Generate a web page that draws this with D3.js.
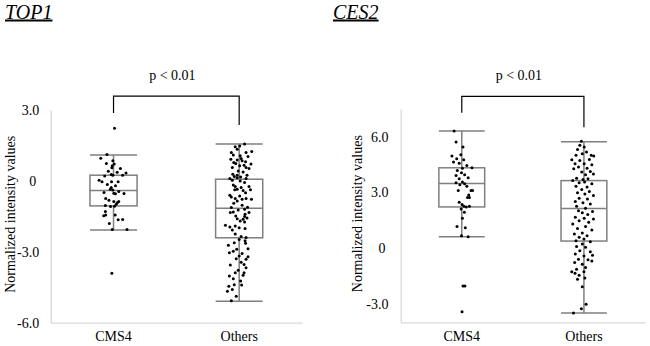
<!DOCTYPE html>
<html>
<head>
<meta charset="utf-8">
<script src="https://cdn.jsdelivr.net/npm/d3@7"></script>
<style>
  body { margin: 0; background: #fff; }
</style>
</head>
<body>
<svg id="chart" width="650" height="346"></svg>
<script>
const groups = ['CMS4', 'Others'];
const top1Ticks = [3, 0, -3, -6];
const ces2Ticks = [6, 3, 0, -3];

// [low whisker, Q1, median, Q3, high whisker] per group
const top1Stats = [[-2.08, -1.06, -0.41, 0.24, 1.10], [-5.10, -2.41, -1.16, 0.07, 1.56]];
const ces2Stats = [[0.61, 2.22, 3.48, 4.33, 6.31], [-3.50, 0.38, 2.13, 3.64, 5.74]];

// [value, jitter]
const top1Cms4 = [[2.23, 1], [1.12, -6.7], [0.96, -13], [0.85, -0.7], [0.74, -7.3], [0.71, 0.7], [0.64, -1.3],
  [0.55, -1.7], [0.52, 7], [0.41, -5.3], [0.36, 3.7], [0.33, 12.7], [0.21, -9], [0.27, -2.3], [0.24, -0.7],
  [0.24, 9.3], [0.03, -14.7], [-0.04, -11.7], [-0.04, -2], [-0.04, 4.7], [-0.15, -6.3], [-0.21, 2], [-0.28, -2.3],
  [-0.35, -3.3], [-0.39, -0.7], [-0.45, 5.3], [-0.49, -9.7], [-0.52, 0.3], [-0.55, 2], [-0.53, 10.7], [-0.75, -8],
  [-0.82, -4.7], [-0.87, 0.3], [-0.92, 4], [-0.87, 5.3], [-0.99, 2.7], [-1.04, -8.3], [-1.09, -3], [-1.07, 1],
  [-1.30, -8.3], [-1.48, -10], [-1.44, -8], [-1.44, 1.7], [-1.65, 4.7], [-1.64, 9.3], [-1.81, -4.3], [-2.06, -1.3],
  [-2.06, 13.7], [-3.91, -1.7]];
const top1Others = [[1.56, 5.5], [1.44, -4], [1.34, -2], [1.24, 12.8], [1.20, 7], [1.20, -8], [1.10, -6], [1.06, 1],
  [1.03, 9], [0.92, -8.5], [0.88, -2], [0.85, 3], [0.81, 6.5], [0.78, -5.5], [0.74, -3.5], [0.71, 12], [0.66, 5],
  [0.64, 0.5], [0.57, 7], [0.52, 10], [0.42, -1], [0.38, 4], [0.28, -6.5], [0.24, -2], [0.18, -5], [0.16, 1.5],
  [0.13, -2], [0.10, -9.5], [0.10, 7], [0.03, -7], [-0.01, 1], [-0.07, 5.5], [-0.18, -6], [-0.24, 10], [-0.28, 2],
  [-0.35, -2], [-0.38, -4.5], [-0.41, 4], [-0.38, 11.5], [-0.5, 6.5], [-0.61, -9.5], [-0.68, -8], [-0.75, -4],
  [-0.75, 7], [-0.78, 12.5], [-0.85, -2], [-0.95, -5.5], [-1.03, 3], [-1.12, 8.5], [-1.13, -8], [-1.20, 5.5],
  [-1.23, -1], [-1.32, -6], [-1.41, 6], [-1.49, -3.5], [-1.51, 5.5], [-1.57, 8], [-1.60, -2], [-1.63, 4], [-1.70, 1],
  [-1.74, 5.5], [-1.88, -14], [-1.95, -9.5], [-1.91, -4], [-1.98, 0], [-2.02, 6], [-2.08, -7], [-2.25, -4],
  [-2.36, 2], [-2.40, 7], [-2.53, 6], [-2.73, -11], [-2.64, 6.5], [-2.90, -2.5], [-2.98, -6], [-3.04, -10],
  [-3.18, 0], [-3.21, 9], [-3.30, -3], [-3.32, 7], [-3.44, 2], [-3.54, 5], [-3.56, -9], [-3.68, 7], [-3.78, -1],
  [-3.89, -4], [-3.89, 5], [-4.03, -10], [-4.00, 4], [-4.14, -6], [-4.24, 1.5], [-4.40, -5], [-4.41, 2.5],
  [-4.46, -10.5], [-4.67, -12], [-4.60, -7], [-4.88, -3], [-5.08, -8], [1.48, 0.5], [0.95, 2], [0.57, -7],
  [0.24, 8], [-0.24, -4], [-0.64, 0.5], [-0.78, 3], [-1.34, -9], [-1.34, 10], [-2.48, 0], [-2.62, -5],
  [-2.87, 9], [-3.07, 3]];
const ces2Cms4 = [[6.32, -8], [5.72, -6], [5.45, 1.3], [4.96, -10.3], [5.04, -1], [4.82, -5.3], [4.77, 2],
  [4.64, -8.7], [4.58, -2.7], [4.46, 5.3], [4.31, 0.7], [4.33, 10.7], [4.19, -4.7], [4.06, -0.3], [3.95, 3],
  [3.92, -6], [3.79, 6.7], [3.74, -2.7], [3.56, 0.7], [3.52, -6], [3.47, 3], [3.41, -2], [3.34, 5.3], [3.10, -3.7],
  [3.10, 9.7], [3.10, 11.3], [2.87, 7.3], [2.73, 6], [2.73, 8], [2.47, -2.7], [2.35, 0.3], [2.26, 2.3], [2.22, 4.7],
  [2.26, 8], [2.11, -0.7], [1.93, 2.7], [1.61, 0.7], [1.16, -5], [1.10, 3.7], [0.67, -0.3], [0.61, 6.7],
  [-2.04, 1.3], [-2.04, 3.3], [-3.43, 0.3]];
const ces2Others = [[5.76, -2.7], [5.54, -4.3], [5.45, 0.3], [5.31, -6.7], [5.18, 2.7], [5.09, -1.7], [5.00, -8.3],
  [5.00, 7.7], [4.96, 10.3], [4.77, -12.7], [4.73, -4.3], [4.78, 5.7], [4.55, -9.3], [4.55, 0.3], [4.49, 8.3],
  [4.37, -5.7], [4.31, 3.3], [4.28, -10.7], [4.10, -2.3], [4.13, 6.7], [3.95, 1.7], [3.99, 10], [3.77, -7.7],
  [3.70, -1], [3.74, 4.3], [3.65, -11.7], [3.52, -5], [3.56, 0.7], [3.47, 8.3], [3.34, -8.3], [3.29, 3.3],
  [3.16, -2.3], [3.05, 5.7], [2.98, -6.7], [2.92, 1], [2.83, 10], [2.69, -5], [2.65, 3.7], [2.51, -9], [2.44, -1],
  [2.38, 6.7], [2.26, -7.7], [2.15, 1.7], [2.02, -5.7], [1.97, 9], [1.90, -1.7], [1.81, 4], [1.66, -9], [1.61, 0.3],
  [1.57, 10], [1.48, -5], [1.39, 5], [1.30, -11.7], [1.17, 1.7], [1.06, -6.7], [0.97, 8.3], [0.76, -10],
  [0.81, -1.7], [0.67, 3.3], [0.58, -5], [0.49, 0], [0.40, -8.3], [0.34, 6.7], [0.22, -1.7], [0.09, -7.7],
  [0.04, 1.7], [-0.14, -4.3], [-0.20, 6.7], [-0.32, -9], [-0.42, 0], [-0.38, 9], [-0.60, -5.7], [-0.63, 4.3],
  [-0.78, -9.7], [-0.69, 8.3], [-0.87, -1.7], [-1.05, 1.7], [-1.14, -7.7], [-1.28, -12.7], [-1.28, 0],
  [-1.35, -9.3], [-1.46, -5], [-1.68, -6.7], [-1.61, 1], [-2.08, -1.7], [-3.03, 2.3], [-3.27, -2.7], [-3.50, -11]];

// bracket: [top, left leg end, right leg end]
const top1Bracket = [3.59, 2.87, 2.36];
const ces2Bracket = [8.18, 7.30, 6.52];

const panels = [
  { title: 'TOP1', titleX: 5, yDomain: [-6, 3], ticks: top1Ticks, stats: top1Stats, points: [top1Cms4, top1Others],
    bracket: top1Bracket, left: 50.7, right: 302, top: 110, bottom: 322.6, labelX: 15, tickPad: 11.5 },
  { title: 'CES2', titleX: 333, yDomain: [-4, 7.5], ticks: ces2Ticks, stats: ces2Stats, points: [ces2Cms4, ces2Others],
    bracket: ces2Bracket, left: 400.7, right: 645, top: 109, bottom: 322.3, labelX: 362, tickPad: 12.3 },
];

const serif = '"Liberation Serif", "Times New Roman", serif';
const axisGray = '#d9d9d9';
const boxGray = '#7f7f7f';

const drawPanel = (svg, p) => {
  const x = d3.scaleBand().domain(groups).range([p.left, p.right]);
  const y = d3.scaleLinear().domain(p.yDomain).range([p.bottom, p.top]);
  const boxW = x.bandwidth() * 0.375;
  const jitter = d3.scaleLinear().domain([-24, 24]).range([-boxW / 2, boxW / 2]);
  const cx = g => x(g) + x.bandwidth() / 2;
  const g = svg.append('g');

  const yAxis = g.append('g')
    .attr('transform', `translate(${p.left},0)`)
    .call(d3.axisLeft(y).tickValues(p.ticks).tickSize(0).tickSizeOuter(0).tickPadding(p.tickPad)
      .tickFormat(v => (v === 0 ? '0' : v.toFixed(1))));
  yAxis.select('.domain').attr('stroke', axisGray).attr('stroke-width', 1.3);
  yAxis.selectAll('text')
    .style('font-family', serif).style('font-size', '14px').attr('fill', '#000')
    .attr('dx', v => (v === 0 ? -3 : 0));

  const xAxis = g.append('g')
    .attr('transform', `translate(0,${p.bottom})`)
    .call(d3.axisBottom(x).tickSize(0).tickSizeOuter(0).tickPadding(8.3));
  xAxis.select('.domain').attr('stroke', axisGray).attr('stroke-width', 1.3);
  xAxis.selectAll('text').style('font-family', serif).style('font-size', '14px').attr('fill', '#000');

  g.append('text')
    .attr('transform', `translate(${p.labelX},${(p.top + p.bottom) / 2 - 2}) rotate(-90)`)
    .attr('text-anchor', 'middle')
    .style('font-family', serif).style('font-size', '14px')
    .text('Normalized intensity values');

  g.append('text')
    .attr('x', p.titleX).attr('y', 18.5)
    .style('font-family', serif).style('font-size', '20px')
    .style('font-style', 'italic').style('text-decoration', 'underline')
    .text(p.title);

  const boxes = g.selectAll('.box').data(groups).enter().append('g').attr('class', 'box');
  boxes.each(function (grp, i) {
    const [lo, q1, med, q3, hi] = p.stats[i];
    const b = d3.select(this);
    const c = cx(grp);
    const line = (x1, y1, x2, y2) => b.append('line')
      .attr('x1', x1).attr('y1', y1).attr('x2', x2).attr('y2', y2)
      .attr('stroke', boxGray).attr('stroke-width', 1.5);
    line(c, y(hi), c, y(q3));
    line(c, y(q1), c, y(lo));
    line(c - boxW / 2, y(hi), c + boxW / 2, y(hi));
    line(c - boxW / 2, y(lo), c + boxW / 2, y(lo));
    b.append('rect')
      .attr('x', c - boxW / 2).attr('y', y(q3))
      .attr('width', boxW).attr('height', y(q1) - y(q3))
      .attr('fill', 'none').attr('stroke', boxGray).attr('stroke-width', 1.5);
    line(c - boxW / 2, y(med), c + boxW / 2, y(med));
    b.selectAll('circle').data(p.points[i]).enter().append('circle')
      .attr('cx', d => c + jitter(d[1]))
      .attr('cy', d => y(d[0]))
      .attr('r', 1.5)
      .attr('fill', '#000');
  });

  const [bTop, bLeft, bRight] = p.bracket;
  const x1 = cx(groups[0]);
  const x2 = cx(groups[1]);
  g.append('path')
    .attr('d', `M${x1},${y(bLeft)}V${y(bTop)}H${x2}V${y(bRight)}`)
    .attr('fill', 'none').attr('stroke', '#000').attr('stroke-width', 1.2);
  g.append('text')
    .attr('x', (x1 + x2) / 2 - 4).attr('y', y(bTop) - 16.5)
    .attr('text-anchor', 'middle')
    .style('font-family', serif).style('font-size', '14px')
    .text('p < 0.01');
};

const svg = d3.select('#chart');
panels.forEach(p => drawPanel(svg, p));
</script>
</body>
</html>
